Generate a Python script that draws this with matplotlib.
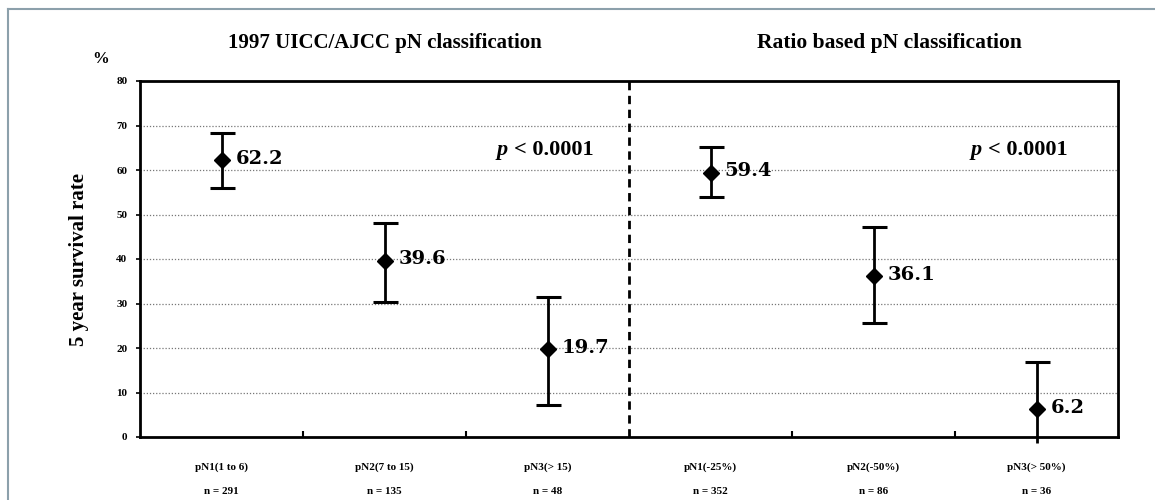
import numpy as np
import matplotlib.pyplot as plt
from matplotlib.lines import Line2D

# 5 year survival by pN category, two classification systems
groups = ['pN1(1 to 6)', 'pN2(7 to 15)', 'pN3(> 15)',
          'pN1(-25%)', 'pN2(-50%)', 'pN3(> 50%)']
n_pts = [291, 135, 48, 352, 86, 36]
surv = [62.2, 39.6, 19.7, 59.4, 36.1, 6.2]
ci_hi = [68.3, 48.1, 31.5, 65.2, 47.3, 16.9]
ci_lo = [56.0, 30.3, 7.2, 53.9, 25.6, -1.3]

titles = ['1997 UICC/AJCC pN classification', 'Ratio based pN classification']
pvals = ['< 0.0001', '< 0.0001']

serif = 'Liberation Serif'

fig = plt.figure(figsize=(11.55, 5.0), dpi=100)
ax = fig.add_axes([140/1155, 1-437/500, 978/1155, 356/500])

x = np.arange(len(groups)) + 0.5

# grid
for yy in range(10, 80, 10):
    ax.axhline(yy, color='#777777', lw=0.9, ls=(0, (1, 1.5)), zorder=1)

# divider between the two systems
ax.axvline(3, color='black', lw=2, ls=(0, (3, 2)), zorder=2)

# error bars, caps and markers
ax.vlines(x, ci_lo, ci_hi, color='black', lw=2, zorder=3, clip_on=False)
ax.plot(x, ci_hi, ls='none', marker='_', ms=18, mew=2.2, color='black', zorder=3)
lo = np.array(ci_lo)
ax.plot(x[lo >= 0], lo[lo >= 0], ls='none', marker='_', ms=18, mew=2.2,
        color='black', zorder=3)
ax.plot(x, surv, ls='none', marker='D', ms=8, color='black', zorder=4)

for xi, v in zip(x, surv):
    ax.annotate(f'{v:.1f}', (xi, v), xytext=(10, 1), textcoords='offset points',
                ha='left', va='center', fontsize=14, fontweight='bold',
                family='DejaVu Serif', zorder=5)

ax.set_xlim(0, 6)
ax.set_ylim(0, 80)
ax.set_yticks(range(0, 81, 10))
ax.set_yticklabels([str(v) for v in range(0, 81, 10)], fontsize=8,
                   fontweight='bold', family=serif)
ax.tick_params(axis='y', direction='out', length=3, width=1.2, pad=6)

# category boundary ticks
ax.set_xticks([1, 2, 4, 5])
ax.set_xticklabels([])
ax.tick_params(axis='x', direction='in', length=4, width=1.5)

for xi, g, n in zip(x, groups, n_pts):
    ax.text(xi, -6.8, g, ha='center', va='center', fontsize=8,
            fontweight='bold', family=serif)
    ax.text(xi, -12.3, f'n = {n}', ha='center', va='center', fontsize=8,
            fontweight='bold', family=serif)

for s in ax.spines.values():
    s.set_linewidth(2)

# p values: italic p placed left of the rest
fig.canvas.draw()
r = fig.canvas.get_renderer()
for xr, pv in zip([2.78, 5.69], pvals):
    t = ax.text(xr, 64.5, pv, ha='right', va='center', fontsize=16,
                fontweight='bold', family=serif)
    w = t.get_window_extent(renderer=r).width
    ax.annotate('p', (xr, 64.5), xytext=(-(w + 6) * 72 / 100, 0),
                textcoords='offset points', ha='right', va='center',
                fontsize=16, fontweight='bold', style='italic', family=serif)

ax.text(1.5, 88.5, titles[0], ha='center', va='center', fontsize=15,
        fontweight='bold', family=serif)
ax.text(4.6, 88.5, titles[1], ha='center', va='center', fontsize=15.5,
        fontweight='bold', family=serif)
ax.text(-0.24, 85, '%', ha='center', va='center', fontsize=12,
        fontweight='bold', family=serif)
ax.set_ylabel('5 year survival rate', fontsize=15, fontweight='bold',
              family=serif, labelpad=20)

# outer frame
fig.add_artist(Line2D([8/1155, 8/1155], [0, 1-9/500], color='#8ca0ab', lw=1.5))
fig.add_artist(Line2D([8/1155, 1], [1-9/500, 1-9/500], color='#8ca0ab', lw=1.5))

fig.savefig('out.png', dpi=100, facecolor='white')
